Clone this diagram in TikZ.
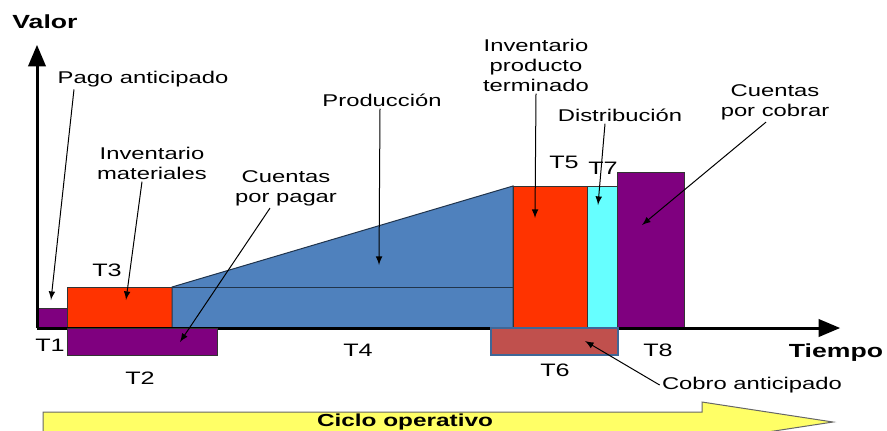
\documentclass[tikz,border=0pt]{standalone}
\usepackage{fontspec}
\setmainfont[FakeStretch=1.4]{Liberation Sans}
\usetikzlibrary{shapes,arrows}

\definecolor{morado}{HTML}{7F007F}
\definecolor{rojo}{HTML}{FF3300}
\definecolor{azul}{HTML}{4F81BD}
\definecolor{celeste}{HTML}{66FFFF}
\definecolor{ladrillo}{HTML}{C0504D}
\definecolor{amarillo}{HTML}{FFFF66}

\begin{document}
\begin{tikzpicture}[x=0.5pt,y=-0.5pt,
    lbl/.style={font=\fontsize{8.5}{10}\selectfont, align=center, inner sep=1pt},
    tlbl/.style={font=\fontsize{9}{10}\selectfont, inner sep=1pt},
    titulo/.style={font=\bfseries\fontsize{9.5}{11}\selectfont, inner sep=1pt},
    bar/.style={draw=black!80, line width=0.5pt},
    pointer/.style={-latex, line width=0.5pt},
    axis/.style={-triangle 45, line width=1.5pt},
  ]
  \useasboundingbox (0,0) rectangle (887,430);

  % barras sobre el eje
  \draw[bar, fill=morado] (38.5,308) rectangle (67,328);
  \draw[bar, fill=rojo] (67,287) rectangle (172,328);
  \draw[bar, fill=azul, draw=azul!40!black] (172,328) -- (172,287) -- (513,186) -- (513,328) -- cycle;
  \draw[azul!40!black, line width=0.5pt] (172,287) -- (513,287);
  \draw[bar, fill=rojo] (513,186) rectangle (587,328);
  \draw[bar, fill=celeste] (587,186) rectangle (617,328);
  \draw[bar, fill=morado] (617,172) rectangle (684,328);

  % ejes
  \coordinate (origen) at (37,328);
  \coordinate (ytop) at (37,45);
  \coordinate (xend) at (840,328);
  \draw[axis] (origen) -- (ytop);
  \draw[axis] (origen) -- (xend);

  % barras bajo el eje
  \draw[bar, fill=morado] (67,328) rectangle (217,355);
  \draw[bar, fill=ladrillo, draw=azul!80!black, line width=1pt] (491,328) rectangle (618,355);

  % ciclo operativo
  \draw[fill=amarillo, draw=black!60, line width=0.5pt] (43,412) -- (702,412) -- (702,402)
    -- (833,422) -- (702,442) -- (702,432) -- (43,432) -- cycle;
  \node[titulo, font=\bfseries\fontsize{8.7}{10}\selectfont] (ciclo) at (405,422) {Ciclo operativo};

  \node[titulo] (valor) at (45,22) {Valor};
  \node[titulo] (tiempo) at (836,353) {Tiempo};

  \node[tlbl] (t1) at (50,345) {T1};
  \node[tlbl] (t2) at (140,378) {T2};
  \node[tlbl] (t3) at (107,270) {T3};
  \node[tlbl] (t4) at (358,350) {T4};
  \node[tlbl] (t5) at (564,162) {T5};
  \node[tlbl] (t6) at (555,370) {T6};
  \node[tlbl] (t7) at (603,168) {T7};
  \node[tlbl] (t8) at (658,350) {T8};

  \node[lbl] (pago) at (143,79) {Pago anticipado};
  \node[lbl] (materiales) at (152,163) {Inventario\\materiales};
  \node[lbl] (pagar) at (286,188) {Cuentas\\por pagar};
  \node[lbl] (produccion) at (382,100) {Producción};
  \node[lbl] (terminado) at (536,65) {Inventario\\producto\\terminado};
  \node[lbl] (distribucion) at (620,115) {Distribución};
  \node[lbl] (cobrar) at (775,102) {Cuentas\\por cobrar};
  \node[lbl] (cobro) at (752,385) {Cobro anticipado};

  % puntas de flecha
  \coordinate (pagoTip) at (51,300);
  \coordinate (materialesTip) at (126,300);
  \coordinate (pagarTip) at (180,342);
  \coordinate (produccionTip) at (379,265);
  \coordinate (terminadoTip) at (535,218);
  \coordinate (distribucionTip) at (598,205);
  \coordinate (cobrarTip) at (642,225);
  \coordinate (cobroTip) at (585,341);

  \draw[pointer] ([xshift=-34.5pt]pago.south) -- (pagoTip);
  \draw[pointer] ([xshift=-5pt]materiales.south) -- (materialesTip);
  \draw[pointer] ([xshift=-8pt]pagar.south) -- (pagarTip);
  \draw[pointer] ([xshift=-1pt]produccion.south) -- (produccionTip);
  \draw[pointer] (terminado.south) -- (terminadoTip);
  \draw[pointer] ([xshift=-7.5pt]distribucion.south) -- (distribucionTip);
  \draw[pointer] ([xshift=-4.5pt]cobrar.south) -- (cobrarTip);
  \draw[pointer] (cobro.west) -- (cobroTip);
\end{tikzpicture}
\end{document}
